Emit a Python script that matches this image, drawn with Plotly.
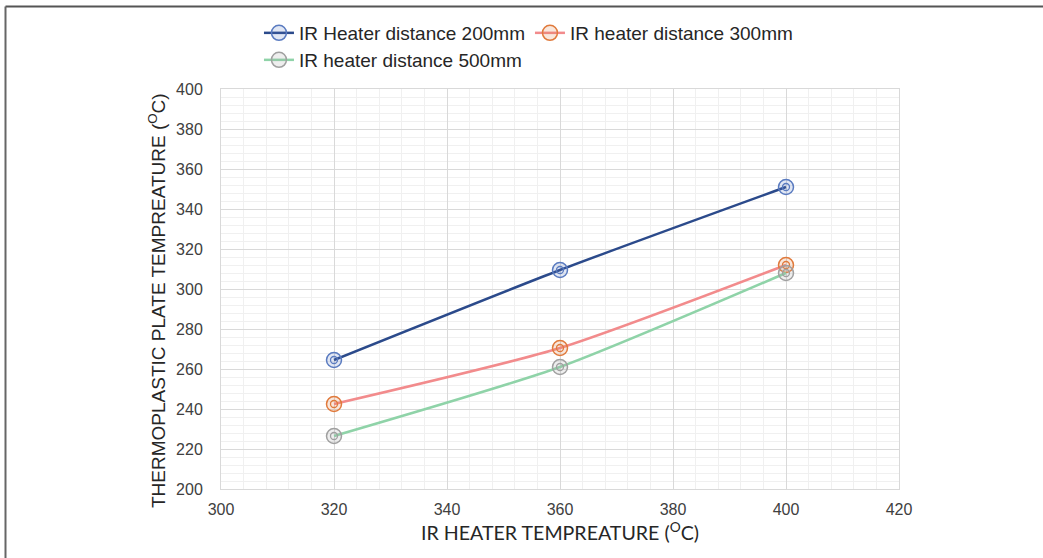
import plotly.graph_objects as go

heater_temp = [320, 360, 400]
plate_200mm = [264.5, 309.5, 351]
plate_300mm = [242.5, 270.5, 312]
plate_500mm = [226.5, 261, 308]

series_names = ["IR Heater distance 200mm", "IR heater distance 300mm", "IR heater distance 500mm"]
series_values = [plate_200mm, plate_300mm, plate_500mm]
line_colors = ["#2B4A8B", "#F28B8C", "#8FD3A8"]
marker_colors = ["#5A7BC0", "#E07A3C", "#A0A0A0"]
marker_fills = ["rgba(90,123,192,0.18)", "rgba(224,122,60,0.18)", "rgba(160,160,160,0.18)"]
legend_ids = ["legend", "legend", "legend2"]

fig = go.Figure()
for name, vals, lc, mc, mf, lg in zip(series_names, series_values, line_colors, marker_colors, marker_fills, legend_ids):
    fig.add_trace(go.Scatter(
        x=heater_temp, y=vals, name=name, mode="lines+markers",
        line=dict(color=lc, width=2.5, shape="spline", smoothing=0.6),
        marker=dict(symbol="circle", size=15, color=mf, line=dict(color=mc, width=1.5)),
        legend=lg,
    ))
    fig.add_trace(go.Scatter(
        x=heater_temp, y=vals, mode="markers", showlegend=False, hoverinfo="skip",
        marker=dict(symbol="circle-open", size=7, color=mc, line=dict(width=1.3)),
    ))

axis_font = dict(family="Liberation Sans, Arial, sans-serif", size=16, color="#404040")
legend_font = dict(family="Liberation Sans, Arial, sans-serif", size=19, color="#262626")

fig.update_layout(
    width=1043, height=558,
    margin=dict(l=221, r=144, t=89, b=69),
    paper_bgcolor="white", plot_bgcolor="white",
    font=axis_font,
    xaxis=dict(
        range=[300, 420], dtick=20, tick0=300,
        showgrid=True, gridcolor="#D9D9D9", gridwidth=1.2,
        minor=dict(dtick=4, showgrid=True, gridcolor="#F0F0F0", gridwidth=1),
        showline=True, linecolor="#D9D9D9", mirror=True, zeroline=False,
        ticks="", tickfont=axis_font, ticklabelstandoff=6,
        title=dict(text="IR HEATER TEMPREATURE (<sup>O</sup>C)",
                   font=dict(family="Lato, Carlito, sans-serif", size=19.6, color="#262626"),
                   standoff=9),
    ),
    yaxis=dict(
        range=[200, 400], dtick=20, tick0=200,
        showgrid=True, gridcolor="#D9D9D9", gridwidth=1.2,
        minor=dict(dtick=4, showgrid=True, gridcolor="#F0F0F0", gridwidth=1),
        showline=True, linecolor="#D9D9D9", mirror=True, zeroline=False,
        ticks="", tickfont=axis_font, ticklabelstandoff=14,
    ),
    annotations=[
        dict(text="THERMOPLASTIC PLATE TEMPREATURE (<sup>O</sup>C)", textangle=-90,
             xref="paper", yref="paper", x=(157 - 221) / 678, y=(489 - 301) / 400,
             xanchor="center", yanchor="middle", showarrow=False,
             font=dict(family="Liberation Sans, Arial, sans-serif", size=19, color="#262626")),
    ],
    legend=dict(orientation="h", x=0.056, y=1.1875, xanchor="left", yanchor="top",
                font=legend_font, bgcolor="rgba(0,0,0,0)", tracegroupgap=0),
    legend2=dict(orientation="h", x=0.056, y=1.12, xanchor="left", yanchor="top",
                 font=legend_font, bgcolor="rgba(0,0,0,0)"),
    shapes=[
        dict(type="line", xref="paper", yref="paper", x0=(5.5 - 221) / 678, x1=(1043 - 221) / 678,
             y0=(489 - 6.5) / 400, y1=(489 - 6.5) / 400, line=dict(color="#555555", width=2)),
        dict(type="line", xref="paper", yref="paper", x0=(5.5 - 221) / 678, x1=(5.5 - 221) / 678,
             y0=(489 - 6.5) / 400, y1=(489 - 560) / 400, line=dict(color="#666666", width=2)),
    ],
)

fig.write_html("out.html")
